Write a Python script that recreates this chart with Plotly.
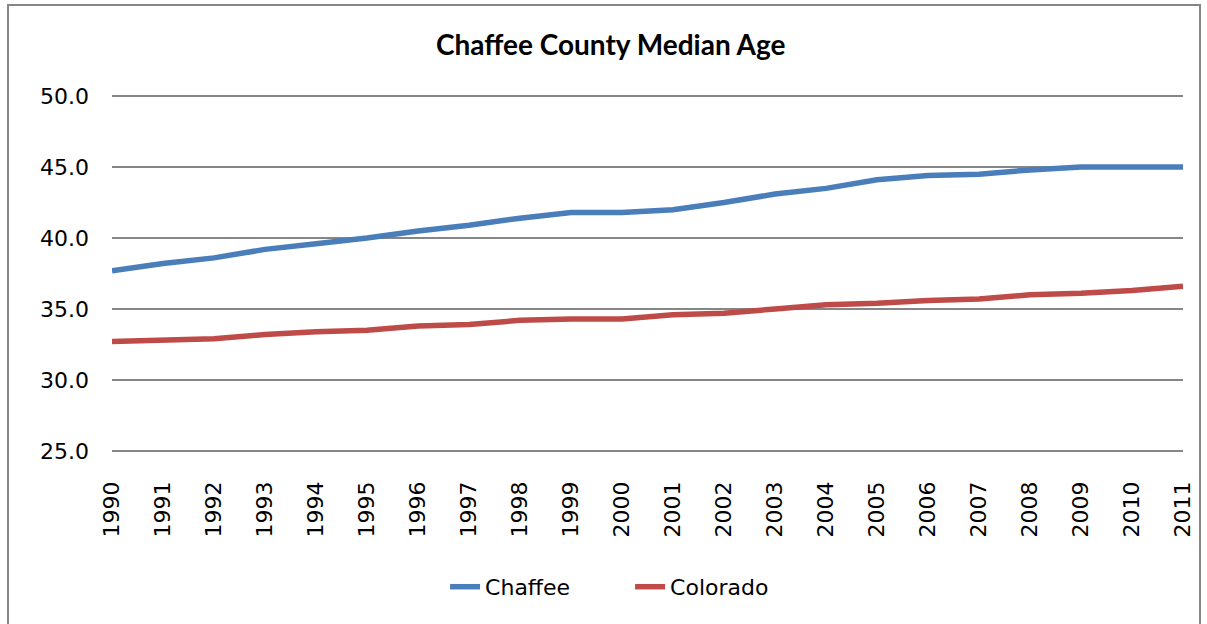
import plotly.graph_objects as go

years = list(range(1990, 2012))
chaffee = [37.7, 38.2, 38.6, 39.2, 39.6, 40.0, 40.5, 40.9, 41.4, 41.8, 41.8,
           42.0, 42.5, 43.1, 43.5, 44.1, 44.4, 44.5, 44.8, 45.0, 45.0, 45.0]
colorado = [32.7, 32.8, 32.9, 33.2, 33.4, 33.5, 33.8, 33.9, 34.2, 34.3, 34.3,
            34.6, 34.7, 35.0, 35.3, 35.4, 35.6, 35.7, 36.0, 36.1, 36.3, 36.6]
y_ticks = [25, 30, 35, 40, 45, 50]

fig = go.Figure()
fig.add_trace(go.Scatter(x=years, y=chaffee, mode='lines', name='Chaffee',
                         line=dict(color='#4A7EBB', width=5.5)))
fig.add_trace(go.Scatter(x=years, y=colorado, mode='lines', name='Colorado',
                         line=dict(color='#BE4B48', width=5.5)))

fig.update_layout(
    width=1207, height=624,
    margin=dict(l=112, r=24, t=94, b=171),
    paper_bgcolor='white', plot_bgcolor='white',
    font=dict(family='DejaVu Sans', size=22, color='black'),
    title=dict(text='<b>Chaffee County Median Age</b>', x=0.506, xanchor='center',
               y=0.928, yanchor='middle',
               font=dict(family='Lato', size=28)),
    legend=dict(orientation='h', x=0.311, xanchor='left', y=-0.373, yanchor='middle',
                font=dict(size=22), entrywidth=140, entrywidthmode='pixels'),
    showlegend=True,
)
fig.update_xaxes(range=[1990, 2011], tickvals=years, ticktext=[str(y) for y in years],
                 tickangle=-90, showgrid=False, zeroline=False, showline=False,
                 ticks='', ticklabelstandoff=23, automargin=False)
fig.update_yaxes(range=[24.85, 50.15], tickvals=y_ticks, ticktext=['%.1f' % v for v in y_ticks],
                 showgrid=True, gridcolor='#868686', gridwidth=2, zeroline=False,
                 showline=False, ticks='', ticklabelstandoff=22, automargin=False)

# outer chart border
fig.add_shape(type='rect', xref='paper', yref='paper',
              x0=-0.0971, x1=1.0159, y0=-0.6, y1=1.248,
              line=dict(color='#868686', width=2), layer='below')

fig.write_html("out.html", config={'displayModeBar': False},
               post_script="document.body.style.margin='0';")
